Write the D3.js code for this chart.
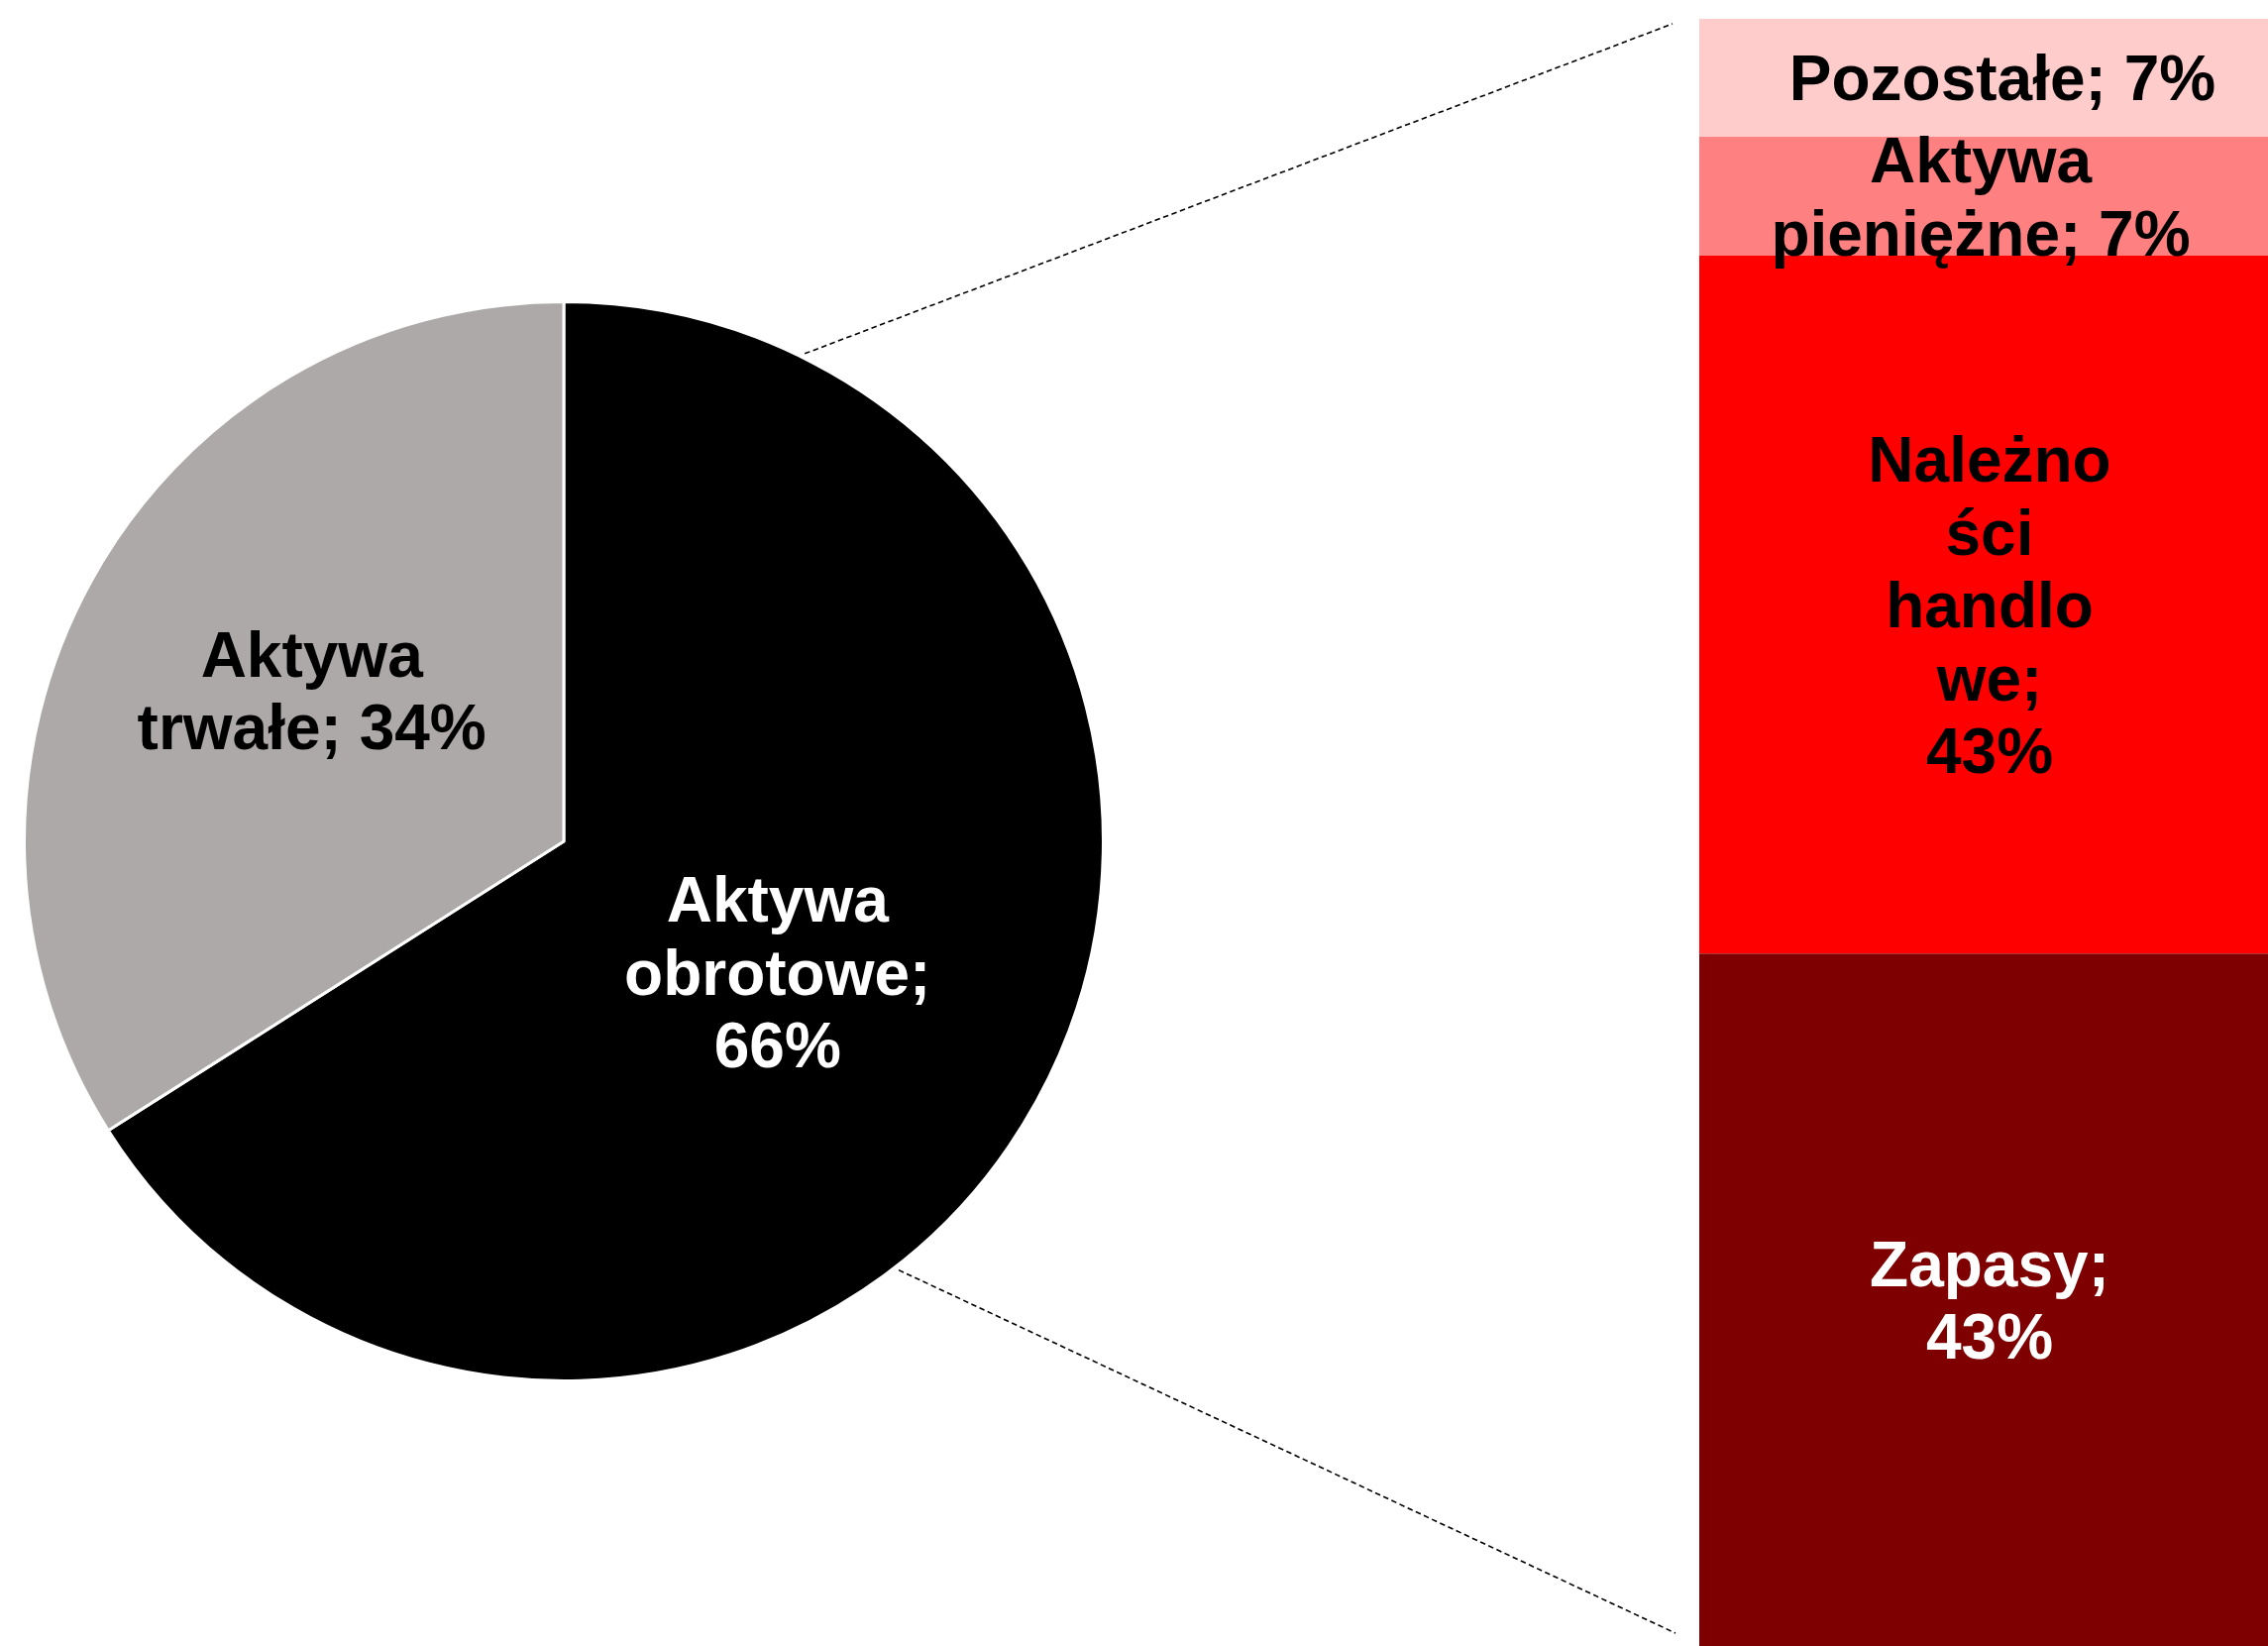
<!DOCTYPE html>
<html>
<head>
<meta charset="utf-8">
<script src="https://cdn.jsdelivr.net/npm/d3@7"></script>
<style>
  body { margin: 0; background: #fff; }
  text { font-family: "Liberation Sans", Arial, sans-serif; font-weight: bold; }
</style>
</head>
<body>
<div id="chart"></div>
<script>

// pie: share of total assets
var pieNames = ["Aktywa obrotowe", "Aktywa trwałe"];
var pieValues = [66, 34];
var pieLabelLines = [["Aktywa", "obrotowe;", "66%"], ["Aktywa", "trwałe; 34%"]];

// bar: breakdown of current assets (top to bottom)
var barNames = ["Pozostałe", "Aktywa pieniężne", "Należności handlowe", "Zapasy"];
var barValues = [7.25, 7.3, 42.9, 42.55];
var barLabelLines = [
  ["Pozostałe; 7%"],
  ["Aktywa", "pieniężne; 7%"],
  ["Należno", "ści", "handlo", "we;", "43%"],
  ["Zapasy;", "43%"]
];

var svgW = 2289;
var svgH = 1661;

var fontSize = 64;
var lineH = 73.5;
var capH = fontSize * 0.716;

var pieColors = ["#000000", "#ADA9A8"];
var pieText = ["#ffffff", "#000000"];
var barColors = ["#FFCCCC", "#FF8080", "#FF0000", "#7F0000"];
var barText = ["#000000", "#000000", "#000000", "#ffffff"];

var cx = 569;
var cy = 849;
var radius = 543;

var barX0 = 1715;
var barX1 = 2289;
var barTop = 19;
var barBottom = 1661;

var svg = d3
  .select("#chart")
  .append("svg")
  .attr("width", svgW)
  .attr("height", svgH);

// multi-line text block, vertically centred on cap height
function addLines(g, lines, x, yMid, color) {
  var first = yMid - (lines.length - 1) * lineH / 2 + capH / 2;
  lines.forEach((t, i) => {
    g.append("text")
      .attr("x", x)
      .attr("y", first + i * lineH)
      .attr("text-anchor", "middle")
      .attr("font-size", fontSize)
      .attr("fill", color)
      .text(t);
  });
}

// series lines first, so they sit behind
var lineData = [
  { a: 26.3, bx: barX0 - 27, by: barTop + 5 },
  { a: 142, bx: barX0 - 24, by: barBottom - 13 }
];

svg.selectAll(".series-line")
  .data(lineData)
  .enter()
  .append("line")
  .attr("class", "series-line")
  .attr("x1", d => cx + (radius + 6) * Math.sin(d.a * Math.PI / 180))
  .attr("y1", d => cy - (radius + 6) * Math.cos(d.a * Math.PI / 180))
  .attr("x2", d => d.bx)
  .attr("y2", d => d.by)
  .attr("stroke", "#000")
  .attr("stroke-width", 1.6)
  .attr("stroke-dasharray", "5.5,3.5");

var pieGroup = svg.append("g")
  .attr("transform", `translate(${cx}, ${cy})`);

var pie = d3.pie().sort(null).value(d => d);
var arcs = pie(pieValues);

var arc = d3.arc()
  .innerRadius(0)
  .outerRadius(radius + 1.5);

pieGroup.selectAll("path")
  .data(arcs)
  .enter()
  .append("path")
  .attr("d", arc)
  .attr("fill", (d, i) => pieColors[i])
  .attr("stroke", "#fff")
  .attr("stroke-width", 3)
  .attr("stroke-linejoin", "round");

// label distance from centre (fraction of radius) plus a small nudge
var labelR = [0.466, 0.545];
var labelNudge = [[-6, 10], [5, -10]];

arcs.forEach((d, i) => {
  var r = radius * labelR[i];
  var mid = (d.startAngle + d.endAngle) / 2;
  var lx = r * Math.sin(mid) + labelNudge[i][0];
  var ly = -r * Math.cos(mid) + labelNudge[i][1];
  addLines(pieGroup, pieLabelLines[i], lx, ly, pieText[i]);
});

// stacked bar
var total = d3.sum(barValues);
var yScale = d3.scaleLinear()
  .domain([0, total])
  .range([barTop, barBottom]);

var cum = 0;
var barData = barValues.map((v, i) => {
  var d = { name: barNames[i], y0: cum, y1: cum + v, i: i };
  cum += v;
  return d;
});

var barGroup = svg.append("g");

barGroup.selectAll("rect")
  .data(barData)
  .enter()
  .append("rect")
  .attr("x", barX0)
  .attr("width", barX1 - barX0)
  .attr("y", d => yScale(d.y0))
  .attr("height", d => yScale(d.y1) - yScale(d.y0))
  .attr("fill", d => barColors[d.i]);

var barLabelDx = [19, -3, 6, 6];

barData.forEach(d => {
  var mid = (yScale(d.y0) + yScale(d.y1)) / 2;
  addLines(barGroup, barLabelLines[d.i], (barX0 + barX1) / 2 + barLabelDx[d.i], mid, barText[d.i]);
});

</script>
</body>
</html>
